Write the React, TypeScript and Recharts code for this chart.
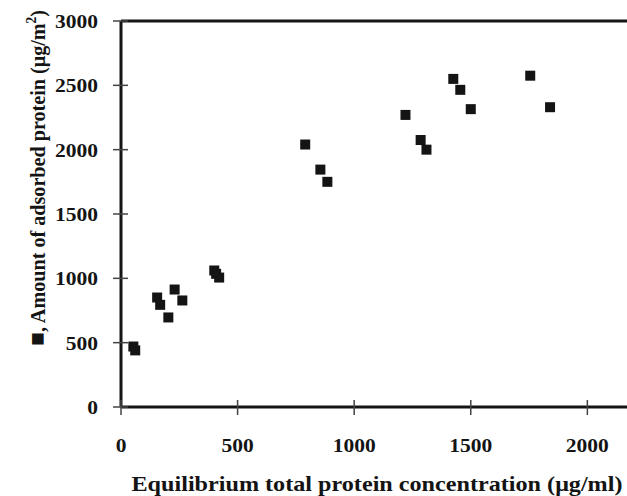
import React from 'react';
import { ScatterChart, Scatter, XAxis, YAxis, ReferenceLine } from 'recharts';

// equilibrium concentration (ug/ml) and adsorbed amount (ug/m2)
const concentration = [53, 61, 155, 168, 203, 230, 263, 400, 408, 421, 790, 855, 885, 1220, 1285, 1310, 1425, 1455, 1500, 1755, 1840];
const adsorbed = [470, 440, 851, 794, 696, 913, 828, 1061, 1035, 1006, 2040, 1845, 1750, 2270, 2075, 2000, 2550, 2465, 2315, 2575, 2330];
const xTicks = [0, 500, 1000, 1500, 2000];
const yTicks = [0, 500, 1000, 1500, 2000, 2500, 3000];

const points = concentration.map((c, i) => ({ x: c, y: adsorbed[i] }));

const FONT = "'Liberation Serif', Tinos, 'Times New Roman', Times, serif";
const INK = '#141414';
const txt = { fontFamily: FONT, fontWeight: 700 };

// digits in the reference are ~10.75px wide each
const digitsWidth = (v: any) => String(v).length * 10.75;

const YTick = ({ x, y, payload }: any) => (
  <g>
    <line x1={x - 8} x2={x + 7} y1={y} y2={y} stroke="#444" strokeWidth={1.5} />
    <text
      x={x - 23}
      y={y + 7}
      textAnchor="end"
      style={txt}
      fontSize={19}
      fill={INK}
      textLength={digitsWidth(payload.value)}
      lengthAdjust="spacingAndGlyphs"
    >
      {payload.value}
    </text>
  </g>
);

const XTick = ({ x, y, payload }: any) => (
  <g>
    <line x1={x} x2={x} y1={y - 7} y2={y + 8} stroke="#444" strokeWidth={1.5} />
    <text
      x={x}
      y={y + 45}
      textAnchor="middle"
      style={txt}
      fontSize={19}
      fill={INK}
      textLength={digitsWidth(payload.value)}
      lengthAdjust="spacingAndGlyphs"
    >
      {payload.value}
    </text>
  </g>
);

const XTitle = ({ viewBox }: any) => (
  <text
    x={viewBox.x + viewBox.width / 2 + 3}
    y={viewBox.y + 84}
    textAnchor="middle"
    style={txt}
    fontSize={21}
    fill={INK}
    textLength={491}
    lengthAdjust="spacingAndGlyphs"
  >
    Equilibrium total protein concentration (μg/ml)
  </text>
);

const YTitle = ({ viewBox }: any) => {
  const cx = 45;
  const cy = viewBox.y + viewBox.height / 2 - 36;
  return (
    <text
      x={cx}
      y={cy}
      transform={`rotate(-90, ${cx}, ${cy})`}
      textAnchor="middle"
      style={txt}
      fontSize={21}
      fill={INK}
      textLength={336}
      lengthAdjust="spacingAndGlyphs"
    >
      <tspan fontSize={24}>■</tspan>
      <tspan>, Amount of adsorbed  protein (μg/m</tspan>
      <tspan dy={-9} fontSize={14}>2</tspan>
      <tspan dy={9}>)</tspan>
    </text>
  );
};

const Square = ({ cx, cy }: any) => <rect x={cx - 5} y={cy - 5} width={10} height={10} fill={INK} />;

export default function App() {
  return (
    <div style={{ position: 'absolute', left: 0, top: 0, background: '#fff' }}>
      <ScatterChart width={627} height={496} margin={{ top: 21, right: 0, left: 0, bottom: 0 }}>
        <XAxis
          type="number"
          dataKey="x"
          domain={[0, 2170]}
          ticks={xTicks}
          allowDataOverflow
          height={89}
          tickSize={0}
          tickMargin={0}
          tickLine={false}
          axisLine={{ stroke: INK, strokeWidth: 3 }}
          tick={<XTick />}
          label={{ content: <XTitle /> }}
        />
        <YAxis
          type="number"
          dataKey="y"
          domain={[0, 3000]}
          ticks={yTicks}
          width={121}
          tickSize={0}
          tickMargin={0}
          tickLine={false}
          axisLine={{ stroke: INK, strokeWidth: 3 }}
          tick={<YTick />}
          label={{ content: <YTitle /> }}
        />
        <ReferenceLine y={3000} stroke={INK} strokeWidth={3} />
        <Scatter data={points} shape={<Square />} isAnimationActive={false} />
      </ScatterChart>
    </div>
  );
}
